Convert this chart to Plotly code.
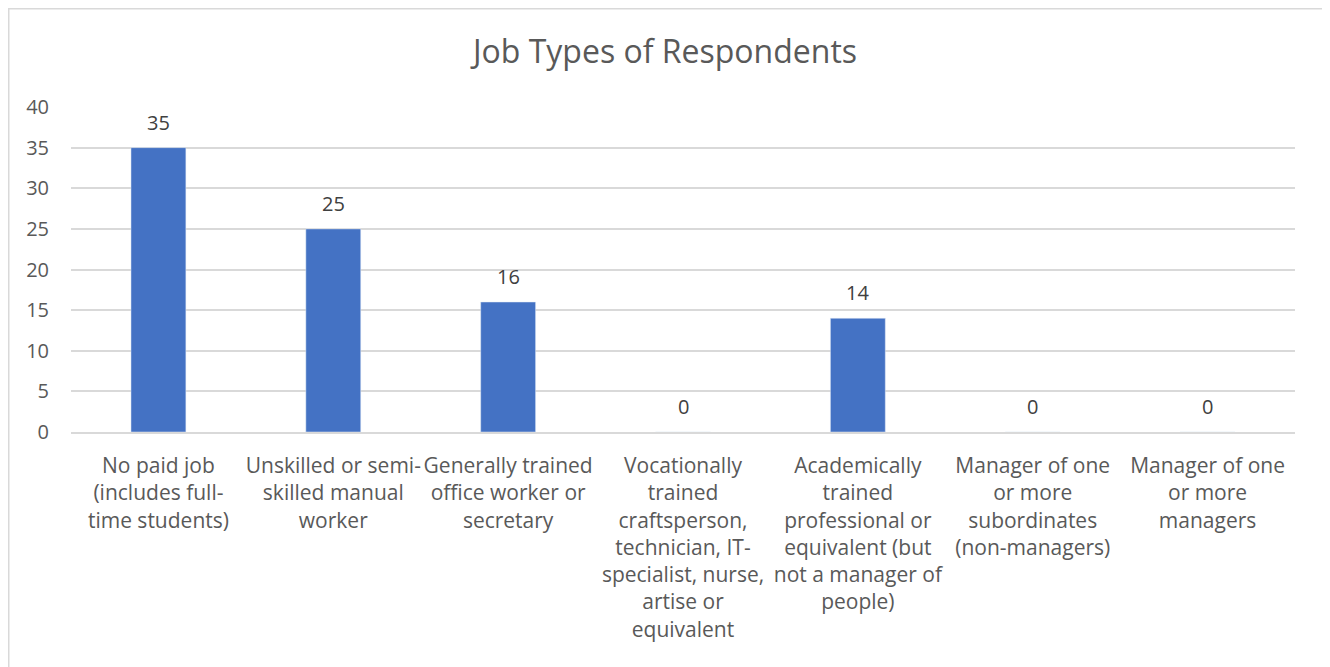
import plotly.graph_objects as go

categories = [
    "No paid job<br>(includes full-<br>time students)",
    "Unskilled or semi-<br>skilled manual<br>worker",
    "Generally trained<br>office worker or<br>secretary",
    "Vocationally<br>trained<br>craftsperson,<br>technician, IT-<br>specialist, nurse,<br>artise or<br>equivalent",
    "Academically<br>trained<br>professional or<br>equivalent (but<br>not a manager of<br>people)",
    "Manager of one<br>or more<br>subordinates<br>(non-managers)",
    "Manager of one<br>or more<br>managers",
]
values = [35, 25, 16, 0, 14, 0, 0]
y_ticks = [0, 5, 10, 15, 20, 25, 30, 35, 40]

FONT = "Open Sans"
TXT = "#595959"
OFF = 8  # page body margin

fig = go.Figure(go.Bar(
    x=categories, y=values,
    marker_color="#4472C4",
))

for c, v in zip(categories, values):
    fig.add_annotation(x=c, y=v, text=str(v), showarrow=False,
                       yanchor="bottom", yshift=10,
                       font=dict(family=FONT, size=20, color="#404040"))

W0, W1 = 71 - OFF, 1295 - OFF
T0, T1 = 107 - OFF, 432 - OFF
pw, ph = W1 - W0, T1 - T0

def px(x):
    return (x - W0) / pw

def py(y):
    return (T1 - y) / ph

fig.update_layout(
    width=1330, height=667,
    margin=dict(l=W0, r=1330 - W1, t=T0, b=667 - T1),
    paper_bgcolor="white", plot_bgcolor="white",
    bargap=0.686,
    showlegend=False,
    title=dict(text="Job Types of Respondents", x=(665 - OFF) / 1330, xanchor="center",
               y=1 - (52 - OFF) / 667, yanchor="middle",
               font=dict(family=FONT, size=32, color=TXT)),
    font=dict(family=FONT, size=20, color=TXT),
    xaxis=dict(showgrid=False, showline=True, linecolor="#d9d9d9", linewidth=1.5,
               ticks="", tickangle=0, ticklabelstandoff=14,
               tickfont=dict(family=FONT, size=21, color=TXT)),
    yaxis=dict(range=[0, 40], tickvals=y_ticks, showgrid=True, gridcolor="#d9d9d9",
               gridwidth=1.5, zeroline=False, showline=False, ticks="",
               ticklabelstandoff=21,
               tickfont=dict(family=FONT, size=20, color=TXT)),
    shapes=[dict(type="rect", xref="paper", yref="paper",
                 x0=px(0.75), x1=px(1315), y0=py(700), y1=py(0.75),
                 line=dict(color="#d9d9d9", width=1.5), fillcolor="rgba(0,0,0,0)",
                 layer="below")],
)

fig.write_html("out.html")
